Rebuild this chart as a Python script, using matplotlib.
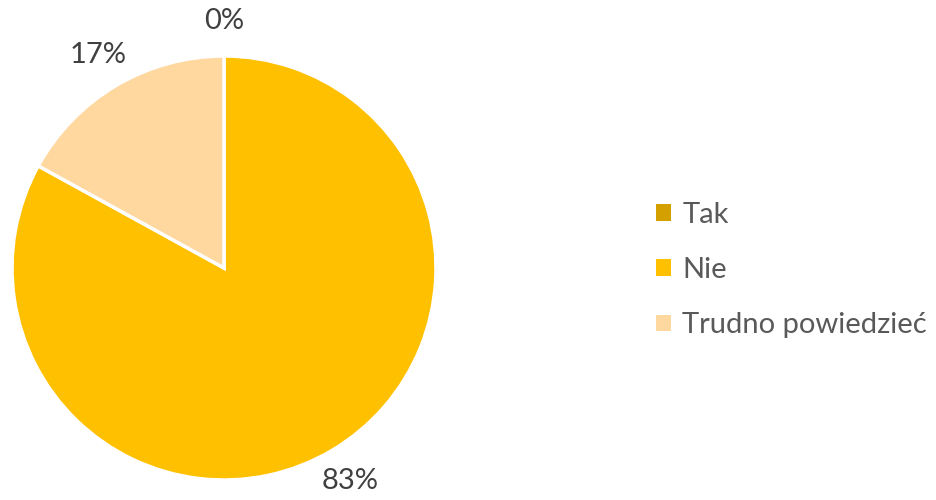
import matplotlib.pyplot as plt
from matplotlib.patches import Patch

plt.rcParams['font.family'] = ['Lato', 'DejaVu Sans']

# data
labels = ['Tak', 'Nie', 'Trudno powiedzieć']
values = [0, 83, 17]
colors = ['#D4A000', '#FFC000', '#FFD8A0']

fig = plt.figure(figsize=(9.37, 5.0), dpi=100)
ax = fig.add_axes([12 / 937, 20 / 500, 424 / 937, 424 / 500])

wedges, texts, autotexts = ax.pie(
    values, colors=colors, startangle=90, counterclock=False,
    autopct=lambda p: f'{p:.0f}%', pctdistance=1.165, radius=1,
    wedgeprops=dict(edgecolor='white', linewidth=2.5),
    textprops=dict(color='#404040', fontsize=21))
ax.set_xlim(-1, 1)
ax.set_ylim(-1, 1)
ax.set_aspect('equal')

handles = [Patch(facecolor=c, edgecolor='none') for c in colors]
fig.legend(handles, labels, loc='center left', bbox_to_anchor=(630 / 937, 230 / 500),
           frameon=False, fontsize=21, labelcolor='#595959',
           handlelength=0.5, handleheight=0.5, handletextpad=0.4,
           labelspacing=1.0)

fig.savefig('out.png', dpi=100)
